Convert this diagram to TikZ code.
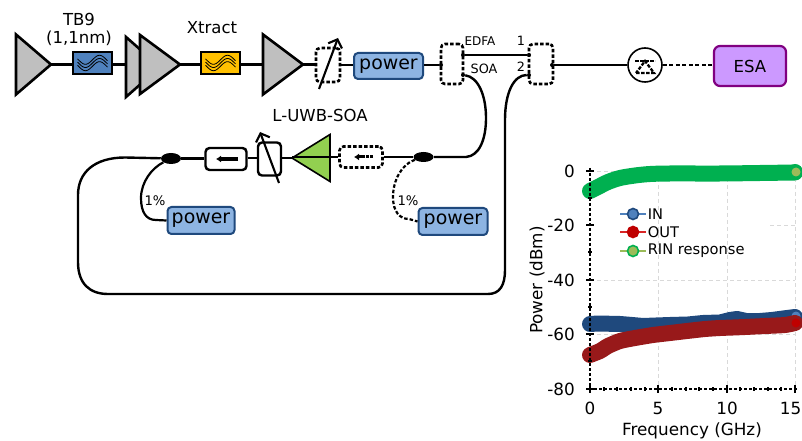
\documentclass[tikz,border=0pt]{standalone}
\usepackage{fontspec}
\setmainfont{DejaVu Sans}
\usetikzlibrary{shapes.geometric,arrows.meta}
\newlength{\ux}\setlength{\ux}{0.75pt}
\definecolor{ampgray}{HTML}{BFBFBF}
\definecolor{pwfill}{HTML}{8DB4E2}
\definecolor{pwline}{HTML}{1F497D}
\definecolor{tbfill}{HTML}{4F81BD}
\definecolor{xtfill}{HTML}{FFC000}
\definecolor{soagreen}{HTML}{92D050}
\definecolor{esafill}{HTML}{CC99FF}
\definecolor{esaline}{HTML}{800080}
\definecolor{datablue}{HTML}{1F497D}
\definecolor{datared}{HTML}{98191A}
\definecolor{datagreen}{HTML}{00B050}
\definecolor{gridgray}{HTML}{D9D9D9}
\definecolor{leggreen}{HTML}{9BBB59}
\tikzset{
  fib/.style={line width=2.4\ux,black},
  amp/.style={isosceles triangle,isosceles triangle stretches,draw=black,line width=2.6\ux,fill=ampgray,inner sep=0pt,outer sep=0pt,minimum height=35\ux,minimum width=60\ux,anchor=apex},
  filt/.style={draw=black,line width=2.4\ux,minimum width=39\ux,minimum height=22\ux,inner sep=0pt},
  powerbox/.style={draw=pwline,line width=2\ux,fill=pwfill,rounded corners=4\ux,inner sep=0pt,font=\fontsize{14.2}{15}\selectfont},
  dashbox/.style={draw=black,dash pattern=on 3.5\ux off 2\ux,line width=2.6\ux,rounded corners=4\ux,inner sep=0pt},
  lab/.style={inner sep=0pt,font=\fontsize{12.4}{14}\selectfont},
  smalllab/.style={inner sep=0pt,font=\fontsize{9.6}{11}\selectfont},
  axlab/.style={inner sep=0pt,font=\fontsize{12.6}{15}\selectfont},
  port/.style={circle,fill=black,inner sep=0pt,minimum size=4\ux},
  grd/.style={gridgray,line width=0.9\ux,dash pattern=on 4\ux off 3\ux},
  dat/.style={line width=16\ux,line cap=round,line join=round},
  legl/.style={line width=2\ux},
  wave/.style={line width=0.8\ux,black}
}
\newcommand{\pwtext}{\raisebox{-2.5\ux}{power}}
\begin{document}
\begin{tikzpicture}[x=0.75pt,y=-0.75pt]
\useasboundingbox (0,0) rectangle (802,441);
\clip (0,0) rectangle (802,441);
\fill[white] (0,0) rectangle (802,441);

% --- upper chain ---
\node[filt,fill=tbfill] (tb) at (92.5,63) {};
\node[filt,fill=xtfill] (xt) at (220.5,63) {};
\foreach \cx/\cy in {92.5/63,220.5/63}{
  \foreach \d in {-3.2,0,3.2}{
    \draw[wave] plot[domain=-15:15,samples=30,smooth] ({\cx+\x},{\cy+\d-4.5*sin(\x*12.8)});
  }
}
\node[amp] (a1) at (51,64.5) {};
\node[amp,minimum height=34\ux,minimum width=60\ux] (a2) at (160,67) {};
\node[amp,minimum height=40\ux,minimum width=59\ux] (a3) at (180,64.5) {};
\node[amp,minimum height=40\ux,minimum width=60\ux] (a4) at (303,64.5) {};
\draw[fib] (a1.apex) -- (tb.west |- a1.apex);
\draw[fib] (tb.east |- a1.apex) -- (a2.west |- a1.apex);
\draw[fib] (a3.apex) -- (xt.west |- a3.apex);
\draw[fib] (xt.east |- a3.apex) -- (a4.west |- a3.apex);
\node[dashbox,minimum width=24\ux,minimum height=34\ux] (voa1) at (328,65) {};
\draw[fib] (a4.apex) -- (voa1.west |- a4.apex);
\coordinate (voa1s) at (319,89);
\coordinate (voa1e) at (338,38);
\draw[line width=2.1\ux,-{Straight Barb[length=5.2pt,width=11pt]}] (voa1s) -- (voa1e);
\node[powerbox,minimum width=69\ux,minimum height=26\ux] (p1) at (388.5,66) {\pwtext};
\draw[fib] (voa1.east) -- (p1.west |- voa1.east);
\node[dashbox,minimum width=22\ux,minimum height=40\ux] (c1) at (452,64) {};
\node[dashbox,minimum width=24\ux,minimum height=40\ux] (c2) at (541,64) {};
\node[port] (c1w) at (441,65) {};
\node[port] (c1a) at (463,55) {};
\node[port] (c1b) at (463,75) {};
\node[port] (c2a) at (529,55) {};
\node[port] (c2b) at (529,75) {};
\node[port] (c2e) at (552,65) {};
\draw[fib] (p1.east |- c1w) -- (c1w);
\draw[fib] (c1a) -- (c2a);
\node[smalllab,font=\fontsize{9}{11}\selectfont] (tEDFA) at (480,41) {EDFA};
\node[smalllab] (tSOA) at (484,69) {SOA};
\node[smalllab] (t1) at (521,41) {1};
\node[smalllab] (t2) at (521,67) {2};
\node[draw=black,line width=1.6\ux,circle,minimum size=34\ux,inner sep=0pt] (rx) at (645,65) {};
\draw[line width=2.3\ux,dash pattern=on 3.5\ux off 1.5\ux] (636,73) -- (654,73) -- (645,61) -- cycle;
\draw[line width=2.3\ux,dash pattern=on 3.5\ux off 1.5\ux] (635,61) -- (655,61);
\draw[fib] (c2e) -- (rx.west);
\node[draw=esaline,fill=esafill,line width=2.2\ux,rounded corners=6\ux,minimum width=72\ux,minimum height=40\ux,inner sep=0pt,font=\fontsize{12.4}{14}\selectfont] (esa) at (750,66) {\raisebox{-3\ux}{ESA}};
\draw[line width=1.6\ux,dash pattern=on 4\ux off 2.5\ux] (rx.east) -- (esa.west |- rx.east);

\node[lab] (ttb) at (79,19) {TB9};
\node[lab] (ttb2) at (79,38) {(1,1nm)};
\node[lab] (txt) at (212,28) {Xtract};
\node[lab] (tsoa) at (320,115) {L-UWB-SOA};

% --- lower loop ---
\node[draw=black,line width=2.4\ux,rounded corners=4\ux,minimum width=41\ux,minimum height=22\ux,inner sep=0pt] (iso1) at (226,159) {};
\draw[line width=3.4\ux,-{Latex[length=3.75pt,width=5.25pt]}] (238,159) -- (216,159);
\node[draw=black,line width=2.4\ux,rounded corners=4\ux,minimum width=23\ux,minimum height=33\ux,inner sep=0pt,fill=white] (voa2) at (269.5,159) {};
\coordinate (voa2s) at (279,183);
\coordinate (voa2e) at (260,132);
\draw[line width=2.1\ux,-{Straight Barb[length=5.2pt,width=11pt]}] (voa2s) -- (voa2e);
\node[amp,fill=soagreen,line width=1.6\ux,shape border rotate=180,minimum height=38\ux,minimum width=47\ux] (soa) at (292,158) {};
\node[dashbox,minimum width=43\ux,minimum height=21\ux] (iso2) at (361,157) {};
\draw[line width=3\ux,dash pattern=on 3\ux off 0.8\ux,-{Latex[length=3.75pt,width=5.25pt]}] (373,157) -- (354,157);
\node[ellipse,fill=black,minimum width=20\ux,minimum height=11\ux,inner sep=0pt] (tap1) at (171,158.5) {};
\node[ellipse,fill=black,minimum width=20\ux,minimum height=10\ux,inner sep=0pt] (tap2) at (423.5,157) {};
\node[powerbox,minimum width=67\ux,minimum height=27\ux] (p2) at (201,220.5) {\pwtext};
\node[powerbox,minimum width=69\ux,minimum height=27\ux] (p3) at (453,221.5) {\pwtext};
\draw[fib] (iso1.east |- soa.apex) -- (voa2.west |- soa.apex);
\draw[fib] (voa2.east |- soa.apex) -- (soa.apex);
\draw[fib] (soa.west |- iso2.west) -- (iso2.west);
\draw[fib] (iso2.east) -- (tap2);
\draw[fib] (tap1) -- (iso1.west |- tap1);
% fibre from coupler 1 SOA port into the tap
\draw[fib] (tap2) -- (466,157) .. controls (479,156) and (486,140) .. (486,118) .. controls (486,95) and (478,77) .. (c1b);
% loop
\draw[fib] (c2b) .. controls (514,75) and (505,92) .. (505,120) -- (505,270) .. controls (505,285) and (500,294) .. (488,294) -- (108,294) .. controls (90,294) and (78,284) .. (78,262) -- (78,195) .. controls (78,172) and (95,157.5) .. (125,157.5) -- (tap1);
% monitors
\draw[line width=2.2\ux] (tap1) .. controls (152,168) and (141,182) .. (141,198) .. controls (141,212) and (146,220) .. (156,220) -- (p2.west);
\draw[line width=2.2\ux,dash pattern=on 3.5\ux off 2\ux] (tap2) .. controls (402,164) and (393,180) .. (393,197) .. controls (393,212) and (400,219) .. (409,219) -- (p3.west);
\node[smalllab,font=\fontsize{9.9}{11}\selectfont] (pc1) at (155,201) {1\%};
\node[smalllab,font=\fontsize{9.9}{11}\selectfont] (pc2) at (408,201) {1\%};

% --- plot ---
\foreach \gx in {658,727,795}{ \draw[grd] (\gx,171) -- (\gx,389); }
\draw[grd] (590,171) -- (795,171);
\draw[grd] (770,225) -- (795,225);
\draw[grd] (590,280) -- (795,280);
\draw[grd] (590,334) -- (795,334);

\draw[dat,datagreen] plot[smooth,tension=0.5] coordinates {(590,191)(598,187)(608,182)(620,178)(635,175.5)(650,174)(670,173.5)(720,173.5)(760,173)(795,172.5)};
\fill[datagreen] (795,172) circle (8);
\fill[leggreen] (796,172) circle (4.5);
\draw[dat,datablue] plot coordinates {(590,324)(598,323.5)(620,324)(632,325)(643,326)(656,325.5)(670,325)(688,324.5)(703,323)(720,322.5)(730,320)(737,319)(746,321)(760,321)(772,320)(787,318)(795,317)};
\fill[tbfill] (796,316) circle (4.5);
\draw[dat,datared] plot[smooth,tension=0.4] coordinates {(590,355)(600,351)(608,346)(620,341)(635,338)(653,335)(670,333)(687,331)(705,329)(720,328)(733,327.5)(745,327)(765,326)(785,325)(795,323)};
\fill[red!75!black] (796,323) circle (4.5);

\coordinate (ax0) at (590,389);
\coordinate (axT) at (590,168);
\coordinate (axR) at (797,389);
\draw[line width=1.6\ux,dash pattern=on 3\ux off 2\ux] (axT) -- (ax0) -- (axR);
\foreach \ty/\tl in {171/0,225/-20,280/-40,334/-60,389/-80}{
  \draw[line width=1.6\ux] (586,\ty) -- (594,\ty);
  \node[axlab,anchor=east] at (575,\ty) {\tl};
}
\foreach \ty in {198,252,307,361}{ \draw[line width=1.3\ux] (588,\ty) -- (592,\ty); }
\foreach \tx/\tl in {590/0,658/5,727/10}{
  \draw[line width=1.6\ux] (\tx,385) -- (\tx,393);
  \node[axlab] at (\tx,408) {\tl};
}
\draw[line width=1.6\ux] (795,385) -- (795,393);
\node[axlab,anchor=east] at (801.5,408) {15};
\foreach \tx in {604,617,631,645,672,686,699,713,740,754,768,781}{ \draw[line width=1.2\ux] (\tx,387) -- (\tx,391); }
\node[axlab,rotate=90] (ylab) at (537,280) {Power (dBm)};
\node[axlab] (xlab) at (692,431) {Frequency (GHz)};

% legend
\foreach \ly/\lc/\lm/\le/\lt in {214/tbfill/tbfill/pwline/IN,232/red!70!gray/red!75!black/red!75!black/OUT,251/leggreen/leggreen/datagreen/RIN response}{
  \draw[legl,draw=\lc] (620,\ly) -- (646,\ly);
  \filldraw[fill=\lm,draw=\le,line width=1.6\ux] (633,\ly) circle (5.5);
  \node[axlab,anchor=west,font=\fontsize{11}{13}\selectfont] at (647.5,\ly) {\lt};
}
\end{tikzpicture}
\end{document}
